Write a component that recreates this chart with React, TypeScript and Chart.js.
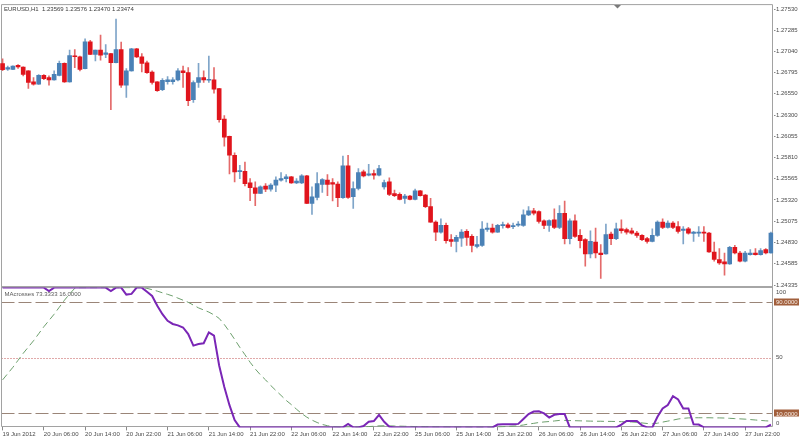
import React, { useEffect, useRef } from 'react';
import { Chart, registerables } from 'chart.js';

Chart.register(...registerables);

const FONT = "'Liberation Sans', Arial, sans-serif";

// ---- Price data (EURUSD, H1) ----
const opens = [
  1.26898, 1.26834, 1.26832, 1.26878, 1.26860, 1.26814, 1.26687, 1.26660, 1.26763, 1.26736,
  1.26710, 1.26763, 1.26901, 1.26687, 1.26990, 1.26978, 1.26840, 1.27151, 1.27004, 1.27055,
  1.27004, 1.27016, 1.26909, 1.27062, 1.26649, 1.26814, 1.27070, 1.26978, 1.26909, 1.26802,
  1.26687, 1.26596, 1.26691, 1.26691, 1.26710, 1.26814, 1.26794, 1.26481, 1.26680, 1.26736,
  1.26706, 1.26710, 1.26611, 1.26258, 1.26056, 1.25837, 1.25648, 1.25653, 1.25518, 1.25461,
  1.25395, 1.25481, 1.25446, 1.25492, 1.25550, 1.25568, 1.25587, 1.25518, 1.25518, 1.25599,
  1.25280, 1.25349, 1.25499, 1.25550, 1.25522, 1.25504, 1.25346, 1.25714, 1.25357, 1.25453,
  1.25645, 1.25607, 1.25625, 1.25607, 1.25472, 1.25530, 1.25395, 1.25384, 1.25338, 1.25366,
  1.25327, 1.25427, 1.25377, 1.25243, 1.25063, 1.24948, 1.25025, 1.24861, 1.24841, 1.24879,
  1.24956, 1.24899, 1.24783, 1.24795, 1.24979, 1.24994, 1.24948, 1.25022, 1.25033, 1.25010,
  1.25029, 1.25025, 1.25147, 1.25193, 1.25185, 1.25078, 1.25025, 1.25090, 1.25002, 1.25166,
  1.24872, 1.25078, 1.24910, 1.24861, 1.24695, 1.24833, 1.24706, 1.24695, 1.24925, 1.24872,
  1.24987, 1.24976, 1.24964, 1.24936, 1.24910, 1.24872, 1.24841, 1.24910, 1.25063, 1.25002,
  1.25051, 1.25013, 1.24968, 1.24987, 1.24933, 1.24936, 1.24948, 1.24936, 1.24718, 1.24631,
  1.24603, 1.24580, 1.24772, 1.24706, 1.24611, 1.24688, 1.24706, 1.24688, 1.24746, 1.24706,
];

const highs = [
  1.26955, 1.26871, 1.26874, 1.26889, 1.26863, 1.26817, 1.26736, 1.26771, 1.26771, 1.26756,
  1.26814, 1.26929, 1.26909, 1.27055, 1.27062, 1.26986, 1.27185, 1.27168, 1.27057, 1.27228,
  1.27120, 1.27018, 1.27415, 1.27147, 1.26840, 1.27076, 1.27076, 1.27016, 1.26929, 1.26814,
  1.26691, 1.26725, 1.26748, 1.26736, 1.26840, 1.26871, 1.26852, 1.26699, 1.26901, 1.26814,
  1.26986, 1.26852, 1.26613, 1.26297, 1.26059, 1.25867, 1.25722, 1.25760, 1.25568, 1.25530,
  1.25484, 1.25510, 1.25510, 1.25587, 1.25637, 1.25614, 1.25593, 1.25568, 1.25614, 1.25605,
  1.25472, 1.25637, 1.25568, 1.25614, 1.25568, 1.25530, 1.25829, 1.25837, 1.25530, 1.25683,
  1.25665, 1.25734, 1.25665, 1.25722, 1.25550, 1.25576, 1.25435, 1.25404, 1.25384, 1.25375,
  1.25446, 1.25433, 1.25384, 1.25338, 1.25078, 1.25101, 1.25051, 1.24918, 1.24910, 1.24976,
  1.24976, 1.24918, 1.24899, 1.25071, 1.25051, 1.25040, 1.25037, 1.25063, 1.25051, 1.25051,
  1.25071, 1.25205, 1.25243, 1.25223, 1.25193, 1.25090, 1.25090, 1.25216, 1.25254, 1.25308,
  1.25101, 1.25147, 1.24976, 1.24872, 1.24964, 1.24994, 1.24803, 1.25040, 1.24948, 1.25051,
  1.25090, 1.24994, 1.24994, 1.24956, 1.24918, 1.24887, 1.24987, 1.25078, 1.25101, 1.25078,
  1.25071, 1.25071, 1.25013, 1.25002, 1.24956, 1.25013, 1.25013, 1.24945, 1.24833, 1.24757,
  1.24706, 1.24783, 1.24795, 1.24726, 1.24726, 1.24746, 1.24757, 1.24757, 1.24757, 1.24948,
];

const lows = [
  1.26817, 1.26820, 1.26829, 1.26843, 1.26756, 1.26611, 1.26649, 1.26657, 1.26713, 1.26649,
  1.26708, 1.26756, 1.26680, 1.26685, 1.26852, 1.26814, 1.26838, 1.27001, 1.26929, 1.26940,
  1.26967, 1.26366, 1.26907, 1.26623, 1.26508, 1.26812, 1.26967, 1.26802, 1.26786, 1.26660,
  1.26577, 1.26585, 1.26660, 1.26660, 1.26699, 1.26623, 1.26412, 1.26450, 1.26623, 1.26680,
  1.26680, 1.26557, 1.26220, 1.25944, 1.25622, 1.25530, 1.25568, 1.25484, 1.25312, 1.25254,
  1.25392, 1.25415, 1.25423, 1.25415, 1.25538, 1.25530, 1.25513, 1.25510, 1.25510, 1.25277,
  1.25154, 1.25320, 1.25407, 1.25369, 1.25308, 1.25243, 1.25338, 1.25338, 1.25223, 1.25435,
  1.25587, 1.25599, 1.25561, 1.25599, 1.25446, 1.25369, 1.25357, 1.25320, 1.25280, 1.25320,
  1.25320, 1.25363, 1.25231, 1.25061, 1.24849, 1.24936, 1.24821, 1.24783, 1.24718, 1.24783,
  1.24795, 1.24718, 1.24764, 1.24783, 1.24956, 1.24936, 1.24945, 1.24994, 1.24994, 1.24987,
  1.25013, 1.25013, 1.25139, 1.25147, 1.25051, 1.24987, 1.24956, 1.24987, 1.24987, 1.24810,
  1.24810, 1.24887, 1.24764, 1.24553, 1.24649, 1.24649, 1.24412, 1.24693, 1.24803, 1.24861,
  1.24936, 1.24925, 1.24925, 1.24887, 1.24849, 1.24821, 1.24833, 1.24899, 1.24987, 1.24994,
  1.24987, 1.24936, 1.24810, 1.24925, 1.24841, 1.24899, 1.24841, 1.24714, 1.24611, 1.24573,
  1.24450, 1.24573, 1.24695, 1.24603, 1.24603, 1.24680, 1.24680, 1.24680, 1.24695, 1.24704,
];

const closes = [
  1.26829, 1.26852, 1.26871, 1.26860, 1.26774, 1.26680, 1.26660, 1.26763, 1.26725, 1.26710,
  1.26774, 1.26901, 1.26687, 1.26993, 1.26978, 1.26832, 1.27151, 1.27004, 1.27055, 1.26998,
  1.27024, 1.26909, 1.27062, 1.26649, 1.26814, 1.27070, 1.26975, 1.26901, 1.26794, 1.26680,
  1.26585, 1.26706, 1.26710, 1.26710, 1.26814, 1.26794, 1.26470, 1.26680, 1.26736, 1.26710,
  1.26717, 1.26603, 1.26251, 1.26047, 1.25840, 1.25645, 1.25657, 1.25510, 1.25461, 1.25395,
  1.25472, 1.25446, 1.25492, 1.25550, 1.25568, 1.25587, 1.25518, 1.25538, 1.25599, 1.25280,
  1.25357, 1.25510, 1.25556, 1.25499, 1.25504, 1.25346, 1.25714, 1.25349, 1.25453, 1.25637,
  1.25599, 1.25622, 1.25607, 1.25683, 1.25522, 1.25384, 1.25369, 1.25327, 1.25366, 1.25327,
  1.25427, 1.25369, 1.25243, 1.25063, 1.24948, 1.25025, 1.24849, 1.24841, 1.24887, 1.24948,
  1.24887, 1.24795, 1.24803, 1.24983, 1.24994, 1.24948, 1.25025, 1.25033, 1.25002, 1.25022,
  1.25037, 1.25147, 1.25193, 1.25166, 1.25071, 1.25025, 1.25082, 1.25002, 1.25166, 1.24872,
  1.25078, 1.24899, 1.24849, 1.24695, 1.24841, 1.24706, 1.24688, 1.24918, 1.24872, 1.24987,
  1.24964, 1.24948, 1.24936, 1.24910, 1.24861, 1.24841, 1.24910, 1.25063, 1.25002, 1.25051,
  1.25002, 1.24956, 1.24983, 1.24936, 1.24948, 1.24948, 1.24936, 1.24718, 1.24631, 1.24591,
  1.24580, 1.24772, 1.24706, 1.24611, 1.24706, 1.24706, 1.24688, 1.24734, 1.24706, 1.24936,
];

// ---- MAcrosses indicator ----
const maFast = [
  100, 100, 100, 100, 100, 100, 100, 100, 100, 97.5,
  100, 100, 100, 100, 100, 100, 100, 100, 100, 100,
  100, 97.5, 100, 100, 95, 95.5, 100, 100, 97, 94,
  87, 81, 76.3, 74, 73, 71.5, 66.8, 58.5, 59.7, 60.2,
  68, 65.7, 44.3, 28.9, 15.9, 5.3, 0, 0, 0, 0,
  0, 0, 0, 0, 0, 0, 0, 0, 0, 0,
  0, 0, 0, 0, 0, 0, 0, 2.5, 0, 0,
  1, 4, 4.5, 9, 4, 0.5, 0, 0, 0, 0,
  0, 0, 0, 0, 0, 0, 0, 0, 0, 0,
  0, 0, 0, 0, 0, 0, 2, 2.2, 2.2, 2.2,
  2.5, 6, 9.5, 11.3, 11.5, 10, 7, 9, 9.5, 9.5,
  0, 0, 0, 0, 0, 0, 0, 0, 0, 0,
  2, 4.6, 4.6, 4.5, 1.5, 0, 0, 7.6, 13.5, 16,
  22.3, 20, 13.5, 13.5, 2.2, 2, 0, 0, 0, 0,
  0, 0, 0, 0, 0, 0, 0, 0, 0, 2,
];

const maSignal = [
  34, 38.5, 43, 48, 53, 57.5, 62, 67, 72, 76.5,
  81, 86, 91, 95.5, 99.5, 100, 100, 100, 100, 100,
  100, 100, 100, 100, 100, 100, 100, 100, 99.5, 98.5,
  97.5, 96.3, 95.2, 94, 92.5, 91, 89.5, 87.5, 85.5, 84,
  82.5, 80.5, 78, 73.6, 68.5, 63, 57.3, 52, 46.6, 41.8,
  37.6, 34, 30, 26.4, 22.9, 19.3, 16.3, 13, 9.9, 7.3,
  5.2, 3.5, 2.1, 1.2, 0.5, 0.3, 0.2, 0.3, 0.3, 0.3,
  0.4, 0.6, 0.8, 1.1, 1.2, 1.1, 1, 0.9, 0.8, 0.7,
  0.6, 0.6, 0.5, 0.5, 0.4, 0.4, 0.4, 0.3, 0.3, 0.3,
  0.3, 0.2, 0.2, 0.2, 0.2, 0.2, 0.3, 0.5, 0.7, 0.9,
  1.2, 1.7, 2.4, 2.9, 3.5, 3.9, 4.2, 4.6, 5, 5,
  4.9, 4.8, 4.7, 4.6, 4.5, 4.4, 4.4, 4.3, 4.3, 4.2,
  4.1, 4, 3.9, 3.6, 3.2, 2.8, 2.6, 3, 3.8, 4.5,
  5.2, 6, 6.5, 6.8, 6.9, 6.9, 6.9, 6.9, 6.8, 6.8,
  6.7, 6.5, 6.3, 6.1, 5.9, 5.6, 5.3, 5, 4.7, 4.5,
];

// ---- Axis labels ----
const priceTicks = [
  1.2753, 1.27285, 1.2704, 1.26795, 1.2655, 1.263, 1.26055,
  1.2581, 1.25565, 1.2532, 1.25075, 1.2483, 1.24585, 1.24335,
];
const priceMin = 1.24305;
const priceMax = 1.27588;

const timeTicks = [
  '19 Jun 2012', '20 Jun 06:00', '20 Jun 14:00', '20 Jun 22:00', '21 Jun 06:00',
  '21 Jun 14:00', '21 Jun 22:00', '22 Jun 06:00', '22 Jun 14:00', '22 Jun 22:00',
  '25 Jun 06:00', '25 Jun 14:00', '25 Jun 22:00', '26 Jun 06:00', '26 Jun 14:00',
  '26 Jun 22:00', '27 Jun 06:00', '27 Jun 14:00', '27 Jun 22:00',
];
const barsPerTimeTick = 8;

const indicatorLabels = [100, 50, 0];
const levels = [90, 50, 10];
const dottedLevel = 50;

const chartTitle = 'EURUSD,H1  1.23569 1.23576 1.23470 1.23474';
const indicatorTitle = 'MAcrosses 73.3333 16.0000';

// hourly category labels (weekend hours are not traded)
const MONTHS = ['Jan', 'Feb', 'Mar', 'Apr', 'May', 'Jun', 'Jul', 'Aug', 'Sep', 'Oct', 'Nov', 'Dec'];
function buildCategories(n: number): string[] {
  const out: string[] = [];
  let t = Date.UTC(2012, 5, 19, 22);
  while (out.length < n) {
    const d = new Date(t);
    const wd = d.getUTCDay();
    if (wd !== 0 && wd !== 6) {
      out.push(`${d.getUTCDate()} ${MONTHS[d.getUTCMonth()]} ${String(d.getUTCHours()).padStart(2, '0')}:00`);
    }
    t += 3600000;
  }
  return out;
}
const categories = buildCategories(opens.length);

const BULL = '#4a81b6';
const BEAR = '#e0141c';
const WICK_BULL = '#7fa5c9';
const WICK_BEAR = '#e46a6a';
const TEXT = '#4a4a4a';

const decor = {
  id: 'mt4decor',
  beforeDatasetsDraw(chart: any) {
    const { ctx, chartArea: ca, scales } = chart;
    const y = scales.y;
    const y2 = scales.y2;
    const L = ca.left + 1.5;
    const R = ca.right - 1;
    const T = ca.top + 0.5;
    const B = Math.floor(ca.bottom) - 0.5;
    ctx.save();
    // level lines
    ctx.lineWidth = 1;
    levels.forEach((lv) => {
      const py = Math.round(y2.getPixelForValue(lv)) + 0.5;
      ctx.beginPath();
      if (lv === dottedLevel) {
        ctx.setLineDash([1, 2]);
        ctx.strokeStyle = '#c25454';
      } else {
        ctx.setLineDash([13, 4]);
        ctx.strokeStyle = '#9a8578';
      }
      ctx.moveTo(L, py);
      ctx.lineTo(R, py);
      ctx.stroke();
    });
    ctx.setLineDash([]);
    // frame
    ctx.strokeStyle = '#a2a2a2';
    ctx.beginPath();
    ctx.moveTo(L, T);
    ctx.lineTo(R, T);
    ctx.lineTo(R, B);
    ctx.lineTo(L, B);
    ctx.closePath();
    ctx.stroke();
    // pane separator
    ctx.fillStyle = '#a6a6a6';
    ctx.fillRect(L, Math.round(y.bottom) - 2, R - L, 2);
    ctx.restore();
  },
  afterDraw(chart: any) {
    const { ctx, chartArea: ca, scales } = chart;
    const y2 = scales.y2;
    ctx.save();
    ctx.font = `6px ${FONT}`;
    ctx.textBaseline = 'middle';
    ctx.textAlign = 'left';
    ctx.fillStyle = '#3a3a3a';
    ctx.fillText(chartTitle, ca.left + 4, ca.top + 5.5);
    ctx.fillStyle = '#5a5a5a';
    ctx.fillText(indicatorTitle, ca.left + 4.5, y2.top + 7);
    // indicator scale labels
    ctx.fillStyle = TEXT;
    indicatorLabels.forEach((v) => {
      const py = Math.min(Math.max(y2.getPixelForValue(v), y2.top + 4.5), y2.bottom - 4.5);
      ctx.fillText(String(v), ca.right + 2.5, py);
    });
    // boxed level values
    levels.filter((lv) => lv !== dottedLevel).forEach((lv) => {
      const py = y2.getPixelForValue(lv);
      ctx.fillStyle = '#a15f3c';
      ctx.fillRect(ca.right + 0.5, Math.round(py) - 3.5, 25, 7);
      ctx.fillStyle = '#f6ebe4';
      ctx.fillText(lv.toFixed(4), ca.right + 2.5, py + 0.5);
    });
    // chart-shift marker
    const mx = ca.right - 156;
    ctx.fillStyle = '#7a7a7a';
    ctx.beginPath();
    ctx.moveTo(mx - 3.5, ca.top + 1);
    ctx.lineTo(mx + 3.5, ca.top + 1);
    ctx.lineTo(mx, ca.top + 4.5);
    ctx.closePath();
    ctx.fill();
    ctx.restore();
  },
};

export default function App() {
  const ref = useRef<HTMLCanvasElement>(null);

  useEffect(() => {
    const canvas = ref.current;
    if (!canvas) return;
    const isBull = (i: number) => closes[i] >= opens[i];
    const chart = new Chart(canvas, {
      type: 'bar',
      data: {
        labels: categories,
        datasets: [
          {
            label: 'wicks',
            type: 'bar',
            data: lows.map((l, i) => [l, highs[i]]),
            backgroundColor: opens.map((_, i) => (isBull(i) ? WICK_BULL : WICK_BEAR)),
            borderWidth: 0,
            barThickness: 1,
            grouped: false,
            yAxisID: 'y',
            order: 3,
          } as any,
          {
            label: 'bodies',
            type: 'bar',
            data: opens.map((o, i) => [o, closes[i]]),
            backgroundColor: opens.map((_, i) => (isBull(i) ? BULL : BEAR)),
            borderWidth: 0,
            barThickness: 4,
            minBarLength: 1,
            grouped: false,
            yAxisID: 'y',
            order: 2,
          } as any,
          {
            label: 'signal',
            type: 'line',
            data: maSignal,
            yAxisID: 'y2',
            borderColor: '#6d9f6d',
            borderWidth: 1,
            borderDash: [7, 4],
            pointRadius: 0,
            tension: 0,
            order: 1,
          } as any,
          {
            label: 'MAcrosses',
            type: 'line',
            data: maFast,
            yAxisID: 'y2',
            borderColor: '#7a26b6',
            borderWidth: 2,
            pointRadius: 0,
            tension: 0,
            order: 0,
          } as any,
        ],
      },
      options: {
        responsive: false,
        devicePixelRatio: 1,
        animation: false,
        events: [],
        layout: { padding: { top: 1, left: 0, right: 0, bottom: 0 } },
        plugins: {
          legend: { display: false },
          tooltip: { enabled: false },
          title: { display: false },
        },
        scales: {
          x: {
            type: 'category',
            offset: true,
            border: { display: false },
            grid: {
              display: true,
              drawOnChartArea: false,
              drawTicks: true,
              tickLength: 3,
              offset: false,
              color: '#8a8a8a',
            },
            ticks: {
              autoSkip: false,
              maxRotation: 0,
              minRotation: 0,
              align: 'start',
              padding: 0,
              color: TEXT,
              font: { family: FONT, size: 6 },
              callback: (_v: any, idx: number) => timeTicks[idx],
            },
            afterBuildTicks: (axis: any) => {
              axis.ticks = timeTicks.map((_, k) => ({ value: k * barsPerTimeTick }));
            },
            afterFit: (axis: any) => {
              axis.height = 12.6;
            },
          },
          y: {
            type: 'linear',
            position: 'right',
            stack: 'panes',
            stackWeight: 285.6,
            min: priceMin,
            max: priceMax,
            border: { display: false },
            grid: { drawOnChartArea: false, drawTicks: true, tickLength: 2, color: '#8a8a8a' },
            ticks: {
              autoSkip: false,
              padding: 0.5,
              color: TEXT,
              font: { family: FONT, size: 6 },
              callback: (v: any) => Number(v).toFixed(5),
            },
            afterBuildTicks: (axis: any) => {
              axis.ticks = priceTicks.map((v) => ({ value: v }));
            },
            afterFit: (axis: any) => {
              axis.width = 25.5;
            },
          },
          y2: {
            type: 'linear',
            position: 'right',
            stack: 'panes',
            stackWeight: 140.8,
            min: 0,
            max: 100,
            border: { display: false },
            grid: { display: false },
            ticks: { display: false },
            afterFit: (axis: any) => {
              axis.width = 25.5;
            },
          },
        },
      } as any,
      plugins: [decor as any],
    });
    return () => chart.destroy();
  }, []);

  return (
    <div style={{ position: 'fixed', left: 0, top: 0, width: 799, height: 440, background: '#ffffff' }}>
      <canvas ref={ref} width={799} height={440} style={{ display: 'block', width: 799, height: 440 }} />
    </div>
  );
}
